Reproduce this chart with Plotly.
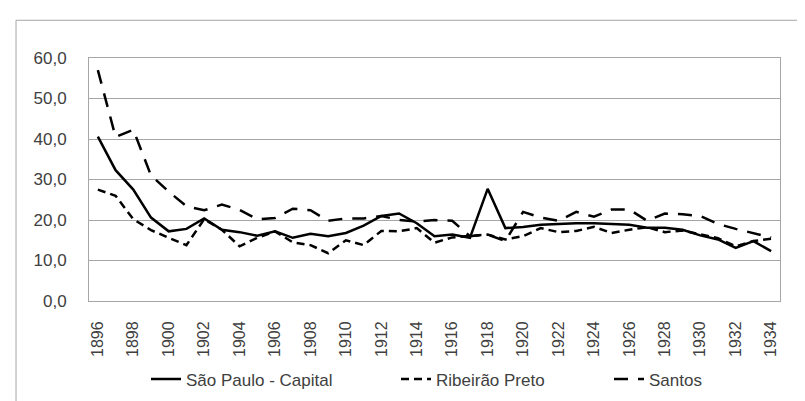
import plotly.graph_objects as go

years = list(range(1896, 1935))
sao_paulo = [40.6, 32.3, 27.5, 20.6, 17.2, 17.8, 20.4, 17.6, 17.0, 16.1,
             17.2, 15.6, 16.6, 16.0, 16.8, 18.6, 21.0, 21.6, 19.2, 16.0,
             16.4, 15.6, 27.7, 18.0, 18.3, 18.8, 19.0, 19.2, 19.2, 19.0,
             18.8, 18.1, 18.1, 17.6, 16.2, 15.2, 13.1, 14.8, 12.3]
ribeirao = [27.5, 26.0, 20.2, 17.5, 15.6, 13.8, 20.2, 17.6, 13.5, 15.6,
            17.2, 14.5, 13.8, 11.8, 15.0, 13.8, 17.3, 17.2, 18.0, 14.4,
            15.7, 16.0, 16.4, 15.2, 16.0, 18.0, 17.0, 17.3, 18.3, 16.8,
            17.6, 18.2, 17.0, 17.4, 16.5, 15.5, 13.5, 14.8, 15.4]
santos = [57.0, 40.5, 42.3, 31.0, 27.0, 23.4, 22.4, 23.8, 22.5, 20.2,
          20.5, 22.8, 22.4, 19.8, 20.4, 20.4, 21.0, 20.0, 19.6, 20.0,
          19.8, 16.0, 16.4, 14.8, 22.0, 20.6, 19.8, 22.0, 20.8, 22.6,
          22.6, 19.8, 21.6, 21.4, 21.0, 19.0, 17.8, 16.8, 15.7]
tick_years = [str(y) for y in range(1896, 1935, 2)]

cats = [str(y) for y in years]
FONT = "Liberation Sans"
TXT = "#404040"

fig = go.Figure()
fig.add_trace(go.Scatter(x=cats, y=sao_paulo, mode="lines", name="São Paulo - Capital",
                         line=dict(color="black", width=2.5), legend="legend"))
fig.add_trace(go.Scatter(x=cats, y=ribeirao, mode="lines", name="Ribeirão Preto",
                         line=dict(color="black", width=2.5, dash="8px,5px"), legend="legend2"))
fig.add_trace(go.Scatter(x=cats, y=santos, mode="lines", name="Santos",
                         line=dict(color="black", width=2.5, dash="14px,10px"), legend="legend3"))

L, R, T, B = 81, 772, 50, 298
W, H = 805, 401
def px(x):
    return (x - L) / (R - L)
def py(y):
    return (B - y) / (B - T)

def leg(xpix):
    return dict(orientation="h", x=px(xpix), y=py(378), xanchor="left", yanchor="middle",
                font=dict(family=FONT, size=17, color=TXT), bgcolor="rgba(0,0,0,0)",
                borderwidth=0)

fig.update_layout(
    width=W, height=H,
    margin=dict(l=L, r=W - R, t=T, b=H - B, pad=0),
    paper_bgcolor="white", plot_bgcolor="white",
    separators=",.",
    font=dict(family=FONT, size=15, color=TXT),
    showlegend=True,
    legend=leg(138),
    legend2=leg(388),
    legend3=leg(601),
    xaxis=dict(type="category", range=[-0.5, len(years) - 0.5],
               tickmode="array", tickvals=tick_years, ticktext=tick_years,
               tickangle=-90, showgrid=False, ticks="",
               showline=True, linecolor="#a6a6a6", linewidth=1, mirror=True,
               ticklabelstandoff=13,
               tickfont=dict(family=FONT, size=16, color=TXT)),
    yaxis=dict(range=[0, 60], dtick=10, tickformat=".1f",
               showgrid=True, gridcolor="#a6a6a6", gridwidth=1,
               showline=True, linecolor="#a6a6a6", linewidth=1, mirror=True,
               zeroline=False, ticks="", ticklabelstandoff=18,
               tickfont=dict(family=FONT, size=17, color=TXT)),
    shapes=[dict(type="rect", xref="paper", yref="paper",
                 x0=px(8), x1=px(830), y0=py(430), y1=py(11.5),
                 line=dict(color="#a6a6a6", width=1), fillcolor="rgba(0,0,0,0)",
                 layer="below")],
)

fig.write_html("out.html")
